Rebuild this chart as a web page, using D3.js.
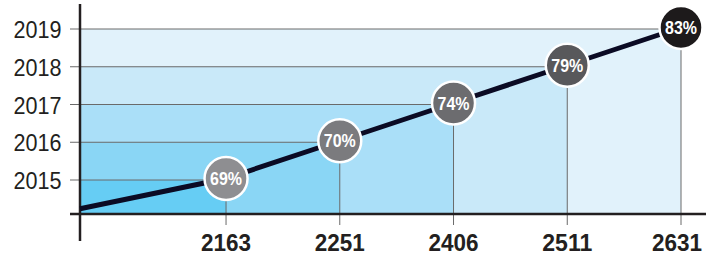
<!DOCTYPE html>
<html><head><meta charset="utf-8">
<script src="https://cdn.jsdelivr.net/npm/d3@7"></script>
<style>html,body{margin:0;padding:0;background:#fff;}svg{display:block;}</style>
</head><body>
<svg id="chart" width="706" height="258"></svg>
<script>
const categories = ["2163", "2251", "2406", "2511", "2631"];
const years = [2015, 2016, 2017, 2018, 2019];
const percents = ["69%", "70%", "74%", "79%", "83%"];
const yTicks = [2015, 2016, 2017, 2018, 2019];
const bandColors = ["#66cdf4", "#8ad6f5", "#aadff8", "#c9e9f9", "#e1f2fb"];
const circleColors = ["#8e8e91", "#7b7b7e", "#6c6c6f", "#58585b", "#1d1a1b"];
const originYear = 2014.24;

const svg = d3.select("#chart");
const W = 706, x0 = 80, xAxisY = 214;
const x = d3.scalePoint().domain(categories).range([80, 681]).padding(0.642).align(1);
const y = d3.scaleLinear().domain([2015, 2019]).range([180, 29]);
const font = "Liberation Sans, Arial, sans-serif";
const xLabelW = 50;

// bands (largest first)
const idx = d3.range(categories.length).reverse();
svg.append("g").selectAll("rect").data(idx).join("rect")
  .attr("x", x0).attr("y", i => y(years[i]))
  .attr("width", i => x(categories[i]) - x0)
  .attr("height", i => xAxisY - y(years[i]))
  .attr("fill", i => bandColors[i]);

// horizontal grid lines + ticks
svg.append("g").selectAll("line").data(d3.range(years.length)).join("line")
  .attr("x1", 70).attr("x2", i => x(categories[i]))
  .attr("y1", i => y(years[i])).attr("y2", i => y(years[i]))
  .attr("stroke", "#6a6a6a").attr("stroke-width", 1);

// vertical drop lines
svg.append("g").selectAll("line").data(d3.range(years.length)).join("line")
  .attr("x1", i => x(categories[i])).attr("x2", i => x(categories[i]))
  .attr("y1", i => y(years[i])).attr("y2", 225)
  .attr("stroke", "#6a6a6a").attr("stroke-width", 1);

// y labels
svg.append("g").selectAll("text").data(yTicks).join("text")
  .attr("x", 61.5).attr("y", d => y(d) + 9)
  .attr("text-anchor", "end")
  .attr("font-family", font)
  .attr("font-size", 23.5).attr("fill", "#231f20")
  .attr("textLength", 48).attr("lengthAdjust", "spacingAndGlyphs")
  .text(d => d);

// x labels (kept inside the right edge)
svg.append("g").selectAll("text").data(categories).join("text")
  .attr("x", d => Math.min(x(d), W - 4 - xLabelW / 2)).attr("y", 250.5)
  .attr("text-anchor", "middle")
  .attr("font-family", font)
  .attr("font-weight", "bold")
  .attr("font-size", 24).attr("fill", "#231f20")
  .attr("textLength", xLabelW).attr("lengthAdjust", "spacingAndGlyphs")
  .text(d => d);

// axes
svg.append("line").attr("x1", 70).attr("x2", W).attr("y1", xAxisY).attr("y2", xAxisY)
  .attr("stroke", "#231f20").attr("stroke-width", 2.5);
svg.append("line").attr("x1", x0).attr("x2", x0).attr("y1", 4).attr("y2", 241)
  .attr("stroke", "#231f20").attr("stroke-width", 2.5);

// line
const pts = [[x0, y(originYear)]].concat(categories.map((c, i) => [x(c), y(years[i]) - 1.5]));
svg.append("path").attr("d", d3.line()(pts))
  .attr("fill", "none").attr("stroke", "#0b0b24").attr("stroke-width", 5);

// circles
const g = svg.append("g").selectAll("g").data(d3.range(categories.length)).join("g")
  .attr("transform", i => `translate(${x(categories[i])},${y(years[i]) - 1.5})`);
g.append("circle").attr("r", 21.5).attr("fill", i => circleColors[i])
  .attr("stroke", "#fff").attr("stroke-width", 2.5);
g.append("text").attr("text-anchor", "middle").attr("y", 6.5)
  .attr("font-family", font)
  .attr("font-weight", "bold").attr("font-size", 18).attr("fill", "#fff")
  .attr("textLength", 32).attr("lengthAdjust", "spacingAndGlyphs")
  .text(i => percents[i]);
</script>
</body></html>
